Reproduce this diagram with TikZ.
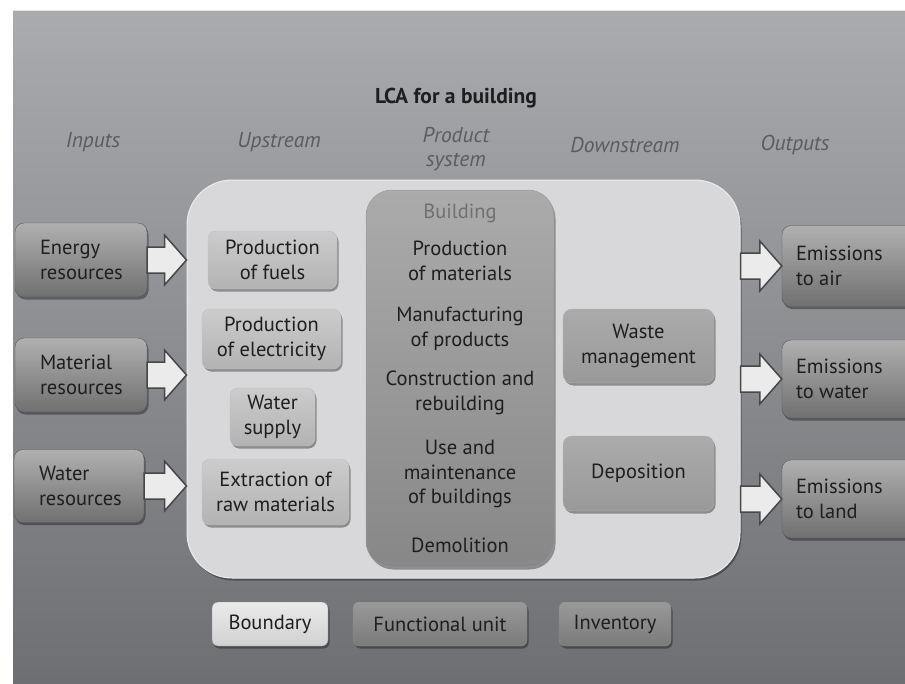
\documentclass[tikz,border=0pt]{standalone}
\usepackage{fontspec}
\setmainfont{PT Sans}
\usetikzlibrary{calc,shadows}
\definecolor{txt}{HTML}{1E1E1E}
\definecolor{hdr}{HTML}{5C5C5E}
\definecolor{bgtop}{HTML}{AAABAE}
\definecolor{bgbot}{HTML}{6E6F73}
\definecolor{bndfill}{HTML}{D8D8DA}
\newcommand\blockarrow[2]{%
  \draw[blockarr] let \p1=(#1), \p2=(#2) in
    (\x1,\y1+13pt) -- (\x2-22pt,\y1+13pt) -- (\x2-22pt,\y1+25pt) -- (\x2,\y1)
    -- (\x2-22pt,\y1-25pt) -- (\x2-22pt,\y1-13pt) -- (\x1,\y1-13pt) -- cycle;}
\begin{document}
\begin{tikzpicture}[x=1pt,y=-1pt,
  every node/.style={text=txt,font=\fontsize{20.5}{24.5}\selectfont},
  shd/.style={drop shadow={shadow xshift=1.5pt,shadow yshift=-2.5pt,opacity=0.35,fill=black}},
  hdrtext/.style={text=hdr,font=\fontsize{21.5}{24}\selectfont\itshape,align=center},
  inbox/.style={shd,rounded corners=9pt,top color=gray!62!white,bottom color=gray!88!black,draw=gray!70!black,line width=0.4pt,minimum width=132pt,minimum height=74pt,inner sep=0pt},
  sidetext/.style={align=left,anchor=west,inner sep=0pt},
  upbox/.style={shd,rounded corners=8pt,top color=black!20,bottom color=black!30,draw=black!25,line width=0.4pt,inner sep=0pt,align=center},
  downbox/.style={shd,rounded corners=9pt,top color=black!33,bottom color=black!40,draw=black!30,line width=0.4pt,inner sep=0pt,align=center},
  bldtext/.style={align=center,inner sep=0pt},
  botbox/.style={shd,rounded corners=6pt,inner sep=0pt,minimum height=44pt,draw=black!45,line width=0.4pt},
  blockarr/.style={fill=black!8,draw=black!72,line width=1.5pt,line join=miter}
]
\useasboundingbox (0,0) rectangle (905,683);
% panel
\shade[top color=bgtop,bottom color=bgbot] (13,10) rectangle (905,683);
\draw[white!80!gray,line width=1pt] (13,10.5) -- (905,10.5);
% title and headers
\node[font=\fontsize{21.5}{24}\selectfont\bfseries] (title) at (456,98) {LCA for a building};
\node[hdrtext] (hin) at (93,142) {Inputs};
\node[hdrtext] (hup) at (279,142) {Upstream};
\node[hdrtext] (hps) at (456,149) {Product\\system};
\node[hdrtext] (hdn) at (625,145) {Downstream};
\node[hdrtext] (hout) at (795,145) {Outputs};
% boundary
\node[shd,rounded corners=45pt,fill=bndfill,draw=white!85!gray,line width=1pt,minimum width=553pt,minimum height=398pt,inner sep=0pt] (bnd) at (463.5,379) {};
% building column
\node[shd,rounded corners=26pt,top color=black!33,bottom color=black!47,draw=black!40,line width=0.5pt,minimum width=188pt,minimum height=377pt,inner sep=0pt] (bld) at (460,378.5) {};
\node[bldtext,text=black!56] (bldt) at (460,213) {Building};
\node[bldtext] (b1) at (460,261) {Production\\of materials};
\node[bldtext] (b2) at (460,329) {Manufacturing\\of products};
\node[bldtext] (b3) at (460,393) {Construction and\\rebuilding};
\node[bldtext] (b4) at (460,474) {Use and\\maintenance\\of buildings};
\node[bldtext] (b5) at (460,545) {Demolition};
% upstream
\node[upbox,minimum width=129pt,minimum height=58pt] (u1) at (272.5,260) {Production\\of fuels};
\node[upbox,minimum width=139pt,minimum height=60pt] (u2) at (271.5,339) {Production\\of electricity};
\node[upbox,minimum width=85pt,minimum height=58pt] (u3) at (272.5,417) {Water\\supply};
\node[upbox,minimum width=147pt,minimum height=66pt] (u4) at (275.5,492) {Extraction of\\raw materials};
% downstream
\node[downbox,minimum width=151pt,minimum height=74pt] (d1) at (638.5,346) {Waste\\management};
\node[downbox,minimum width=151pt,minimum height=75pt] (d2) at (638.5,473.5) {Deposition};
% inputs
\node[inbox] (i1) at (81,260) {};
\node[sidetext] (i1t) at ([xshift=25pt]i1.west) {Energy\\resources};
\node[inbox] (i2) at (81,375) {};
\node[sidetext] (i2t) at ([xshift=25pt]i2.west) {Material\\resources};
\node[inbox,minimum width=130pt,minimum height=73pt] (i3) at (79,486) {};
\node[sidetext] (i3t) at ([xshift=25pt]i3.west) {Water\\resources};
% outputs
\node[inbox,minimum width=140pt,minimum height=81pt] (o1) at (852,266) {};
\node[sidetext] (o1t) at ([xshift=14pt]o1.west) {Emissions\\to air};
\node[inbox,minimum width=140pt,minimum height=78pt] (o2) at (852,379) {};
\node[sidetext] (o2t) at ([xshift=14pt]o2.west) {Emissions\\to water};
\node[inbox,minimum width=140pt,minimum height=78pt] (o3) at (852,499) {};
\node[sidetext] (o3t) at ([xshift=14pt]o3.west) {Emissions\\to land};
% arrows
\blockarrow{i1.east}{i1.east -| bnd.west}
\blockarrow{i2.east}{i2.east -| bnd.west}
\blockarrow{i3.east}{i3.east -| bnd.west}
\blockarrow{bnd.east |- o1.west}{o1.west}
\blockarrow{bnd.east |- o2.west}{o2.west}
\blockarrow{bnd.east |- o3.west}{o3.west}
% bottom boxes
\node[botbox,top color=black!8,bottom color=black!18,minimum width=116pt] (k1) at (270,624) {Boundary};
\node[botbox,top color=black!40,bottom color=black!52,minimum width=174pt] (k2) at (440,624) {Functional unit};
\node[botbox,top color=black!40,bottom color=black!52,minimum width=112pt] (k3) at (615,624) {Inventory};
\end{tikzpicture}
\end{document}
